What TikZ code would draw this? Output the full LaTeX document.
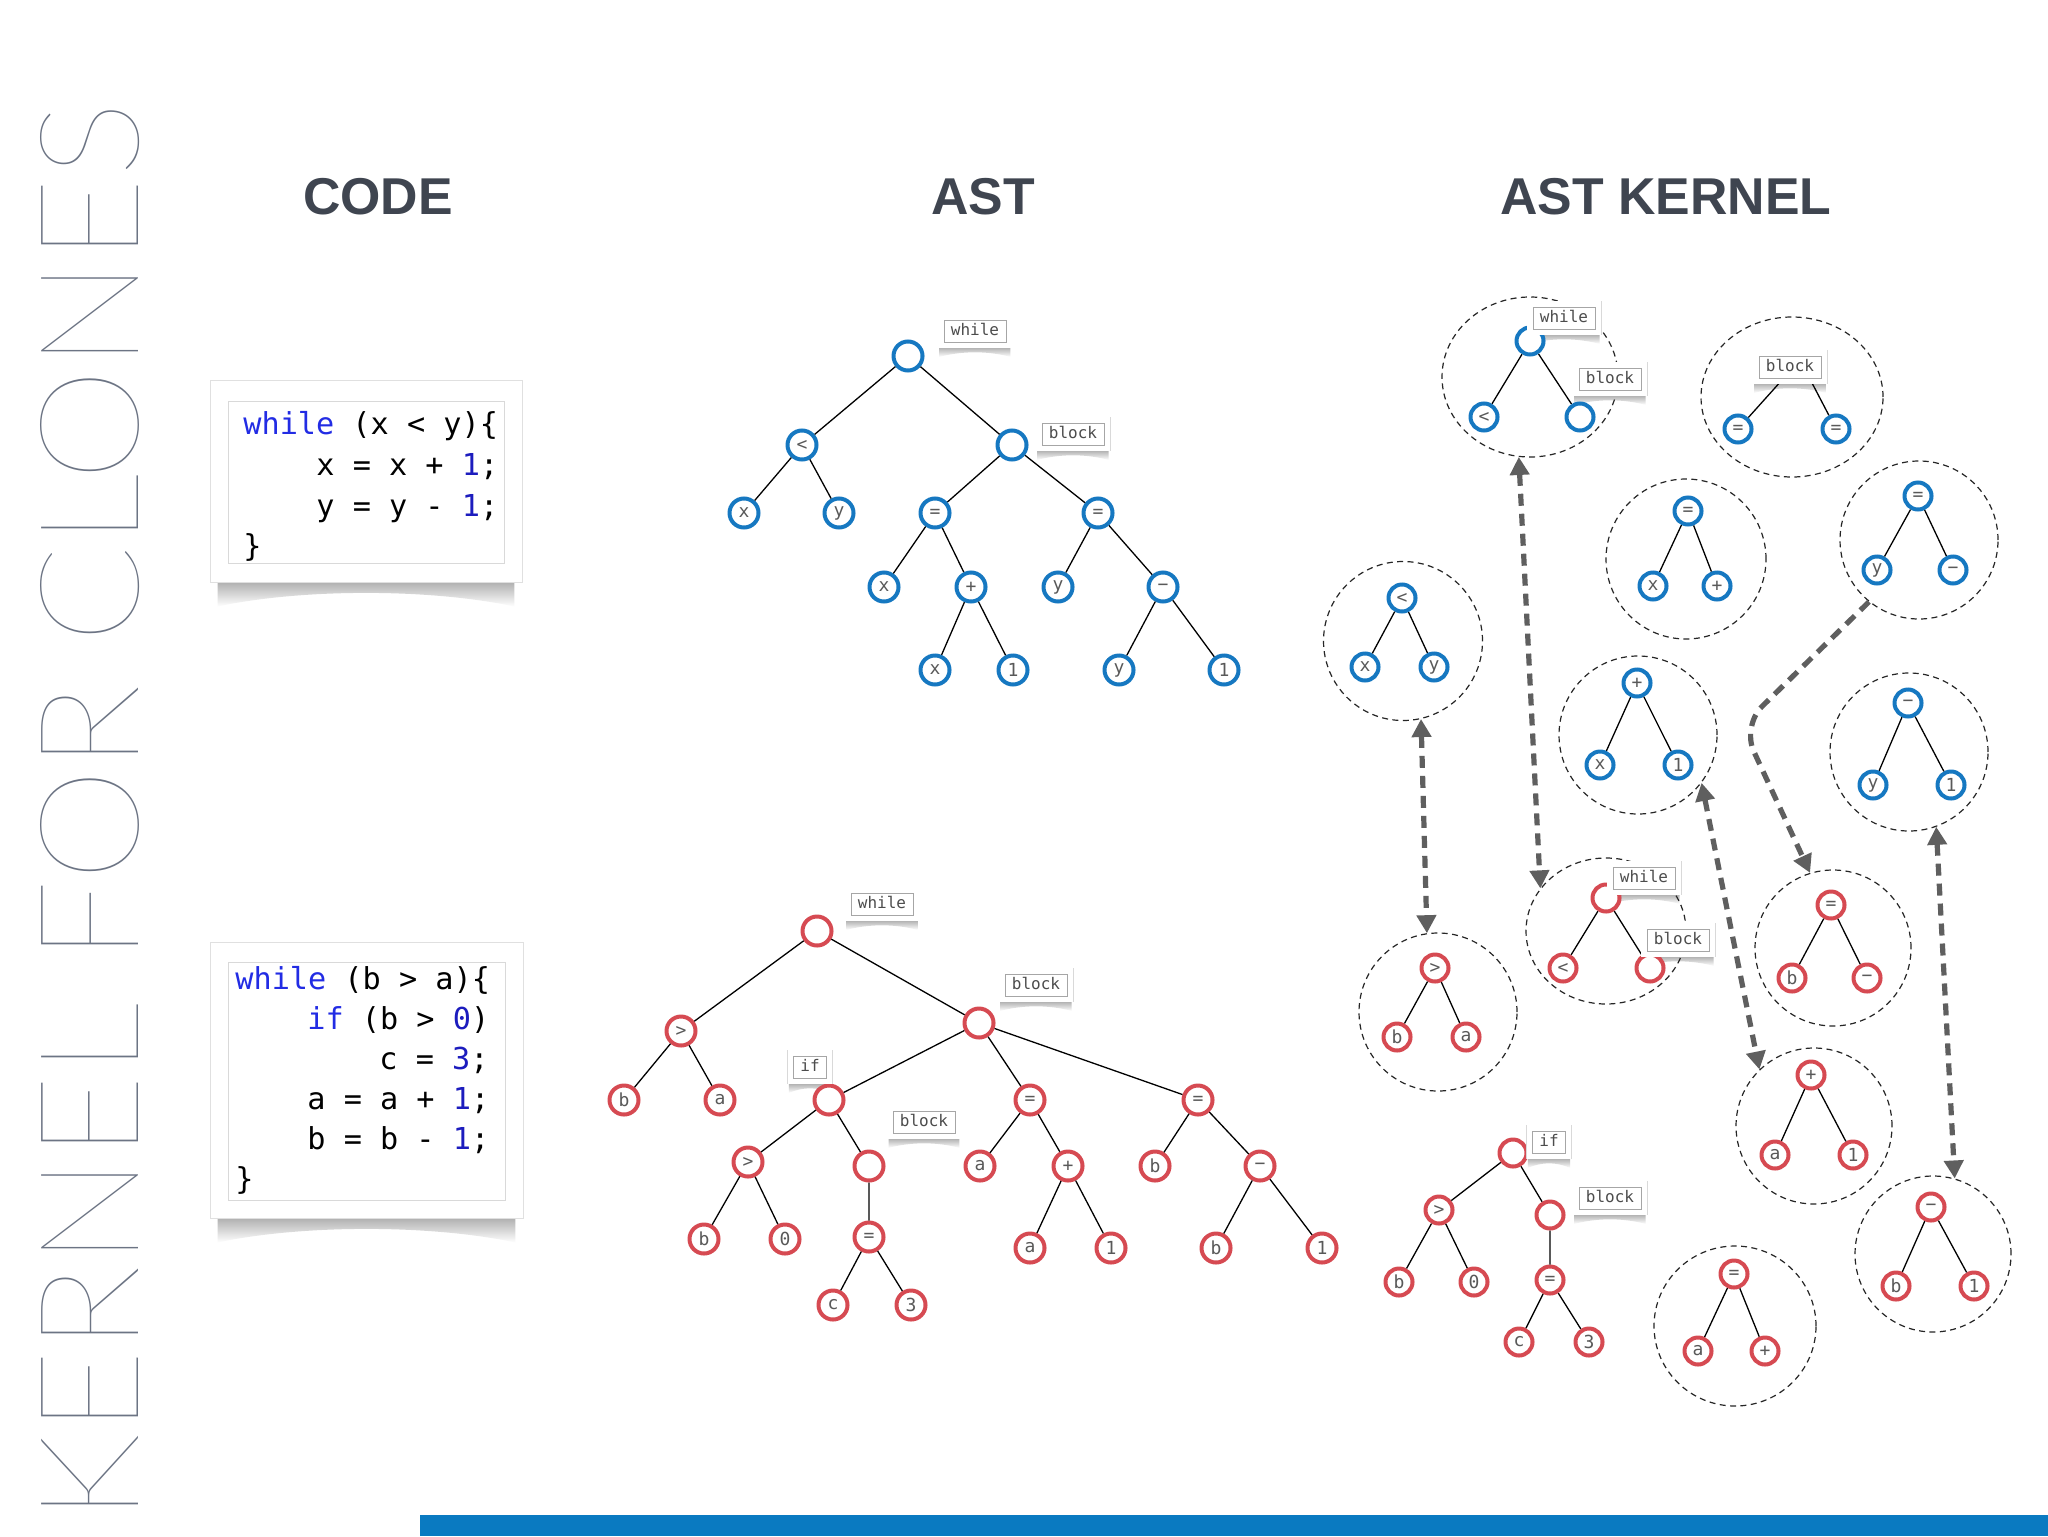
\documentclass[tikz,border=0pt]{standalone}
\usepackage{fontspec}
\usetikzlibrary{shapes.geometric,arrows.meta,calc}
\newfontfamily\monof{DejaVu Sans Mono}
\newfontfamily\titlef{Liberation Sans}
\IfFontExistsTF{Lato Thin}{\newfontfamily\thinf{Lato Thin}}{%
 \IfFontExistsTF{Lato Hairline}{\newfontfamily\thinf{Lato Hairline}}{%
  \IfFontExistsTF{Lato Light}{\newfontfamily\thinf{Lato Light}}{%
   \IfFontExistsTF{Fira Sans Light}{\newfontfamily\thinf{Fira Sans Light}}{\newfontfamily\thinf{Liberation Sans}}}}}
\definecolor{ttl}{RGB}{63,69,80}
\definecolor{vert}{RGB}{108,116,132}
\definecolor{bl}{RGB}{22,120,193}
\definecolor{rd}{RGB}{214,74,82}
\definecolor{kw}{RGB}{34,44,228}
\definecolor{num}{RGB}{28,28,190}
\definecolor{arr}{RGB}{95,95,95}
\definecolor{barc}{RGB}{10,122,193}
\pgfdeclarelayer{bg}
\pgfdeclarelayer{back}
\pgfsetlayers{back,bg,main}
\newcommand{\curl}[4]{%
\begin{pgfonlayer}{bg}
\shade[top color=black!55, bottom color=white, opacity=0.6]
 let \p1=(#1.south west), \p2=(#1.south east) in
 ({\x1+(#3)},{\y1-(#4)+1pt}) -- ({\x1+(#3)},{\y1-(#4)-#2}) .. controls ({\x1+0.3*(\x2-\x1)},{\y1-(#4)-0.25*#2}) and ({\x1+0.7*(\x2-\x1)},{\y1-(#4)-0.25*#2}) .. ({\x2-(#3)},{\y1-(#4)-#2}) -- ({\x2-(#3)},{\y1-(#4)+1pt}) -- cycle;
\end{pgfonlayer}}
\tikzset{
 tn/.style={circle, line width=2pt, minimum size=14.5pt, inner sep=0pt, fill=white, font=\monof\fontsize{9}{9}\selectfont, text=black!65},
 bn/.style={tn, draw=bl},
 rn/.style={tn, draw=rd},
 bk/.style={bn, minimum size=13.5pt},
 rk/.style={rn, minimum size=13.5pt},
 ed/.style={line width=0.65pt, black},
 kern/.style={ellipse, draw=black!85, line width=0.6pt, dash pattern=on 3pt off 2.2pt, inner sep=0pt},
 tagbox/.style={font=\monof\fontsize{8}{8}\selectfont, text=black!70, fill=white, draw=black!35, line width=0.4pt, inner xsep=3.5pt, inner ysep=0pt, minimum height=11pt, text height=5.8pt, text depth=1.2pt, preaction={draw=black!15, line width=6.4pt}, preaction={draw=white, line width=5.8pt}},
 link/.style={draw=arr, line width=2.6pt, dash pattern=on 6pt off 4pt, arrows={Triangle[length=9pt,width=9.5pt]-Triangle[length=9pt,width=9.5pt]}},
 linkone/.style={draw=arr, line width=2.6pt, dash pattern=on 6pt off 4pt, arrows={-Triangle[length=9pt,width=9.5pt]}},
 codeline/.style={anchor=base west, inner sep=0pt, font=\monof\fontsize{15.1}{20}\selectfont},
 ttlnode/.style={anchor=base, inner sep=0pt, font=\titlef\bfseries\fontsize{25.9}{30}\selectfont, text=ttl},
 card/.style={rectangle, fill=white, draw=black!12, line width=0.4pt, inner sep=0pt},
 cardin/.style={rectangle, fill=white, draw=black!15, line width=0.5pt, inner sep=0pt},
}
\newcommand{\tagat}[3]{\node[tagbox] (#1) at (#2) {#3};\curl{#1}{4pt}{-2pt}{3.2pt}}
\begin{document}
\begin{tikzpicture}[x=0.5pt,y=-0.5pt]
\useasboundingbox (0,0) rectangle (2048,1536);
\begin{pgfonlayer}{back}
\fill[white] (0,0) rectangle (2048,1536);
\end{pgfonlayer}

% vertical title
\node[anchor=base west, rotate=90, inner sep=0pt, text=vert] (vtitle) at (138,1522) {\resizebox{709.5pt}{49pt}{\thinf KERNEL FOR CLONES}};

% titles
\node[ttlnode] (tcode) at (378,214) {CODE};
\node[ttlnode] (tast) at (983,214) {AST};
\node[ttlnode] (tker) at (1666,214) {AST KERNEL};

% code cards
\node[card, minimum width=156pt, minimum height=101pt] (card1) at (366,481) {};
\curl{card1}{12pt}{4pt}{0pt}
\node[cardin, minimum width=138pt, minimum height=81pt] (box1) at (366,482) {};
\node[codeline] (c1a) at (243,434) {\textcolor{kw}{while} (x < y)\{};
\node[codeline] (c1b) at (316,475) {x = x + \textcolor{num}{1};};
\node[codeline] (c1c) at (316,516) {y = y - \textcolor{num}{1};};
\node[codeline] (c1d) at (243,556) {\}};

\node[card, minimum width=156.5pt, minimum height=138pt] (card2) at (366.5,1080) {};
\curl{card2}{12pt}{4pt}{0pt}
\node[cardin, minimum width=138.5pt, minimum height=119pt] (box2) at (366.5,1081) {};
\node[codeline] (c2a) at (235,989) {\textcolor{kw}{while} (b > a)\{};
\node[codeline] (c2b) at (307,1029) {\textcolor{kw}{if} (b > \textcolor{num}{0})};
\node[codeline] (c2c) at (379,1069) {c = \textcolor{num}{3};};
\node[codeline] (c2d) at (307,1109) {a = a + \textcolor{num}{1};};
\node[codeline] (c2e) at (307,1149) {b = b - \textcolor{num}{1};};
\node[codeline] (c2f) at (235,1189) {\}};

% ---------- top AST ----------
\node[bn] (t0) at (908,356) {};
\node[bn] (tlt) at (802,445) {<};
\node[bn] (tblk) at (1012,445) {};
\node[bn] (tx1) at (744,513) {x};
\node[bn] (ty1) at (839,513) {y};
\node[bn] (teq1) at (935,513) {=};
\node[bn] (teq2) at (1098,513) {=};
\node[bn] (tx2) at (884,587) {x};
\node[bn] (tpl) at (971,587) {+};
\node[bn] (ty2) at (1058,587) {y};
\node[bn] (tmi) at (1163,587) {−};
\node[bn] (tx3) at (935,670) {x};
\node[bn] (t13) at (1013,670) {1};
\node[bn] (ty3) at (1119,670) {y};
\node[bn] (t14) at (1224,670) {1};
\draw[ed] (t0)--(tlt) (t0)--(tblk) (tlt)--(tx1) (tlt)--(ty1) (tblk)--(teq1) (tblk)--(teq2)
 (teq1)--(tx2) (teq1)--(tpl) (tpl)--(tx3) (tpl)--(t13) (teq2)--(ty2) (teq2)--(tmi) (tmi)--(ty3) (tmi)--(t14);
\tagat{tgw}{975,331}{while}
\tagat{tgb}{1073,434}{block}

% ---------- bottom AST ----------
\node[rn] (b0) at (817,931) {};
\node[rn] (bgt) at (681,1031) {>};
\node[rn] (bblk) at (979,1023) {};
\node[rn] (bb1) at (624,1100) {b};
\node[rn] (ba1) at (720,1100) {a};
\node[rn] (bif) at (829,1100) {};
\node[rn] (beq1) at (1030,1100) {=};
\node[rn] (beq2) at (1198,1100) {=};
\node[rn] (bgt2) at (748,1162) {>};
\node[rn] (bblk2) at (869,1166) {};
\node[rn] (ba2) at (980,1166) {a};
\node[rn] (bpl) at (1068,1166) {+};
\node[rn] (bb2) at (1155,1166) {b};
\node[rn] (bmi) at (1260,1166) {−};
\node[rn] (bb3) at (704,1239) {b};
\node[rn] (bzero) at (785,1239) {0};
\node[rn] (beq3) at (869,1237) {=};
\node[rn] (ba3) at (1030,1248) {a};
\node[rn] (b11) at (1111,1248) {1};
\node[rn] (bb4) at (1216,1248) {b};
\node[rn] (b12) at (1322,1248) {1};
\node[rn] (bc) at (833,1305) {c};
\node[rn] (b3) at (911,1305) {3};
\draw[ed] (b0)--(bgt) (b0)--(bblk) (bgt)--(bb1) (bgt)--(ba1) (bblk)--(bif) (bblk)--(beq1) (bblk)--(beq2)
 (bif)--(bgt2) (bif)--(bblk2) (bgt2)--(bb3) (bgt2)--(bzero) (bblk2)--(beq3) (beq3)--(bc) (beq3)--(b3)
 (beq1)--(ba2) (beq1)--(bpl) (bpl)--(ba3) (bpl)--(b11) (beq2)--(bb2) (beq2)--(bmi) (bmi)--(bb4) (bmi)--(b12);
\tagat{bgw}{882,904}{while}
\tagat{bgb}{1036,985}{block}
\tagat{bgi}{810,1067}{if}
\tagat{bgb2}{924,1122}{block}

% ---------- AST kernel ----------
\node[kern, minimum width=88pt, minimum height=80pt] (K1) at (1530,377) {};
\node[kern, minimum width=91pt, minimum height=80pt] (K2) at (1792,397) {};
\node[kern, minimum width=80pt, minimum height=80pt] (K3) at (1686,559) {};
\node[kern, minimum width=79pt, minimum height=79pt] (K4) at (1919,540) {};
\node[kern, minimum width=79.5pt, minimum height=79.5pt] (K5) at (1403,641) {};
\node[kern, minimum width=79pt, minimum height=79pt] (K6) at (1638,735) {};
\node[kern, minimum width=79pt, minimum height=79pt] (K7) at (1909,752) {};
\node[kern, minimum width=79pt, minimum height=79pt] (K8) at (1438,1012) {};
\node[kern, minimum width=80pt, minimum height=73pt] (K9) at (1606,931) {};
\node[kern, minimum width=78pt, minimum height=78pt] (K10) at (1833,948) {};
\node[kern, minimum width=78pt, minimum height=78pt] (K11) at (1814,1126) {};
\node[kern, minimum width=78pt, minimum height=78pt] (K12) at (1933,1254) {};
\node[kern, minimum width=81pt, minimum height=80pt] (K13) at (1735,1326) {};

% K1
\node[bk] (k1r) at (1530,341) {};
\node[bk] (k1l) at (1484,417) {<};
\node[bk] (k1b) at (1580,417) {};
\draw[ed] (k1r)--(k1l) (k1r)--(k1b);
% K2
\coordinate (k2r) at (1800,360);
\node[bk] (k2l) at (1738,429) {=};
\node[bk] (k2m) at (1836,429) {=};
\draw[ed] (k2r)--(k2l) (k2r)--(k2m);
% K3
\node[bk] (k3r) at (1688,511) {=};
\node[bk] (k3l) at (1653,586) {x};
\node[bk] (k3m) at (1717,586) {+};
\draw[ed] (k3r)--(k3l) (k3r)--(k3m);
% K4
\node[bk] (k4r) at (1918,496) {=};
\node[bk] (k4l) at (1877,570) {y};
\node[bk] (k4m) at (1953,570) {−};
\draw[ed] (k4r)--(k4l) (k4r)--(k4m);
% K5
\node[bk] (k5r) at (1402,598) {<};
\node[bk] (k5l) at (1365,667) {x};
\node[bk] (k5m) at (1434,667) {y};
\draw[ed] (k5r)--(k5l) (k5r)--(k5m);
% K6
\node[bk] (k6r) at (1637,683) {+};
\node[bk] (k6l) at (1600,765) {x};
\node[bk] (k6m) at (1678,765) {1};
\draw[ed] (k6r)--(k6l) (k6r)--(k6m);
% K7
\node[bk] (k7r) at (1908,703) {−};
\node[bk] (k7l) at (1873,785) {y};
\node[bk] (k7m) at (1951,785) {1};
\draw[ed] (k7r)--(k7l) (k7r)--(k7m);
% K8
\node[rk] (k8r) at (1435,968) {>};
\node[rk] (k8l) at (1397,1037) {b};
\node[rk] (k8m) at (1466,1037) {a};
\draw[ed] (k8r)--(k8l) (k8r)--(k8m);
% K9
\node[rk] (k9r) at (1606,898) {};
\node[rk] (k9l) at (1563,968) {<};
\node[rk] (k9b) at (1650,968) {};
\draw[ed] (k9r)--(k9l) (k9r)--(k9b);
% K10
\node[rk] (k10r) at (1831,905) {=};
\node[rk] (k10l) at (1792,978) {b};
\node[rk] (k10m) at (1867,978) {−};
\draw[ed] (k10r)--(k10l) (k10r)--(k10m);
% K11
\node[rk] (k11r) at (1811,1075) {+};
\node[rk] (k11l) at (1775,1155) {a};
\node[rk] (k11m) at (1853,1155) {1};
\draw[ed] (k11r)--(k11l) (k11r)--(k11m);
% K12
\node[rk] (k12r) at (1931,1207) {−};
\node[rk] (k12l) at (1896,1286) {b};
\node[rk] (k12m) at (1974,1286) {1};
\draw[ed] (k12r)--(k12l) (k12r)--(k12m);
% K13
\node[rk] (k13r) at (1734,1274) {=};
\node[rk] (k13l) at (1698,1351) {a};
\node[rk] (k13m) at (1765,1351) {+};
\draw[ed] (k13r)--(k13l) (k13r)--(k13m);
% if subtree
\node[rk] (fif) at (1513,1153) {};
\node[rk] (fgt) at (1439,1210) {>};
\node[rk] (fblk) at (1550,1215) {};
\node[rk] (fb) at (1399,1282) {b};
\node[rk] (f0) at (1474,1282) {0};
\node[rk] (feq) at (1550,1280) {=};
\node[rk] (fc) at (1519,1342) {c};
\node[rk] (f3) at (1589,1342) {3};
\draw[ed] (fif)--(fgt) (fif)--(fblk) (fgt)--(fb) (fgt)--(f0) (fblk)--(feq) (feq)--(fc) (feq)--(f3);

% kernel tags
\tagat{k1w}{1564,318}{while}
\tagat{k1bt}{1610,379}{block}
\tagat{k2bt}{1790,367}{block}
\tagat{k9w}{1644,878}{while}
\tagat{k9bt}{1678,940}{block}
\tagat{fit}{1549,1142}{if}
\tagat{fbt}{1610,1198}{block}

% clone links
\draw[link] (K5.-77) -- (K8.98);
\draw[link] (K1.-98) -- (K9.147);
\draw[link] (K6.-37) -- (K11.134);
\draw[linkone, rounded corners=14pt] (K4.-129) -- (1742,726) -- (K10.107);
\draw[link] (K7.-70) -- (K12.74);

% bottom bar
\fill[barc] (420,1515) rectangle (2048,1536);
\end{tikzpicture}
\end{document}
